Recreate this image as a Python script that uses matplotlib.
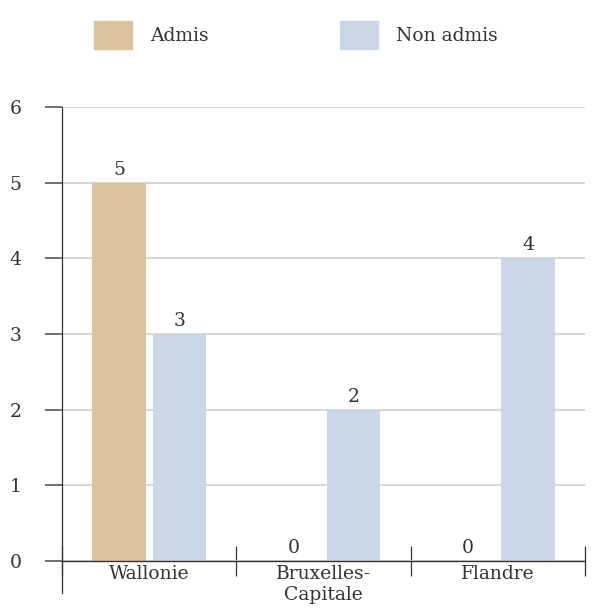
import matplotlib.pyplot as plt
import numpy as np
from matplotlib.patches import Patch

# data
regions = ["Wallonie", "Bruxelles-\nCapitale", "Flandre"]
admis = [5, 0, 0]
non_admis = [3, 2, 4]
series_names = ["Admis", "Non admis"]

col_admis = "#dbc39e"
col_non = "#c9d7e8"
txt = "#333333"

plt.rcParams['font.family'] = ['DejaVu Serif']
fs = 13.5

fig = plt.figure(figsize=(6.01, 6.13), dpi=100)
ax = fig.add_axes([62 / 601, 52 / 613, 523 / 601, 454 / 613])

x = np.arange(len(regions))
bar_width = 0.305
offset = 0.173

b1 = ax.bar(x - offset, admis, bar_width, color=col_admis, zorder=3)
b2 = ax.bar(x + offset, non_admis, bar_width, color=col_non, zorder=3)
ax.bar_label(b1, padding=3, fontsize=fs, color=txt)
ax.bar_label(b2, padding=3, fontsize=fs, color=txt)

ax.set_xlim(-0.5, 2.5)
ax.set_ylim(0, 6)

# gridlines
ax.set_yticks(range(0, 7))
ax.yaxis.grid(True, color="#cfcfcf", linewidth=1.2, zorder=0)
ax.tick_params(axis='y', length=12, width=1.2, color="#555555", pad=17,
               labelsize=fs, labelcolor=txt)

# x axis: boundary ticks and centred labels
ax.set_xticks([-0.5, 0.5, 1.5, 2.5])
ax.set_xticklabels([])
ax.set_xticks(x, regions, minor=True)
ax.tick_params(axis='x', which='major', direction='inout', length=22,
               width=0.9, color=txt)
ax.tick_params(axis='x', which='minor', length=0, pad=3, labelsize=fs,
               labelcolor=txt)

for s in ["top", "right"]:
    ax.spines[s].set_visible(False)
ax.spines["bottom"].set_color(txt)
ax.spines["bottom"].set_linewidth(1.0)
ax.spines["bottom"].set_zorder(4)
ax.spines["left"].set_color(txt)
ax.spines["left"].set_linewidth(0.9)
ax.spines["left"].set_bounds(-0.42, 6)

handles = [Patch(color=col_admis), Patch(color=col_non)]
fig.legend(handles, series_names, loc='center left',
           bbox_to_anchor=(94 / 601, 1 - 35 / 613), ncol=2, frameon=False,
           fontsize=fs, handlelength=2.0, handleheight=2.0,
           handletextpad=1.0, columnspacing=7.0, borderpad=0,
           borderaxespad=0, labelcolor=txt)

fig.savefig("out.png", dpi=100)
